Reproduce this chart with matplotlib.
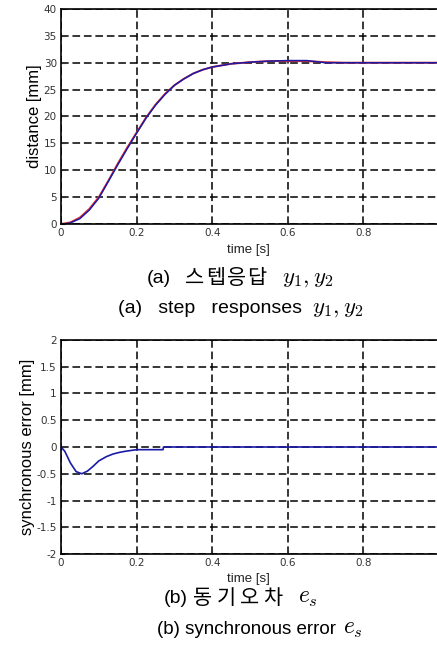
import numpy as np
import matplotlib
matplotlib.use('Agg')
import matplotlib.pyplot as plt
from matplotlib import font_manager as fm

plt.rcParams['mathtext.fontset'] = 'cm'
plt.rcParams['font.family'] = ['Noto Sans CJK KR', 'DejaVu Sans']

names = {f.name for f in fm.fontManager.ttflist}
narrow = 'Liberation Sans Narrow' if 'Liberation Sans Narrow' in names else 'Liberation Sans'

# step responses
t_step = [0, 0.01, 0.025, 0.05, 0.075, 0.1, 0.125, 0.15, 0.175, 0.2, 0.225, 0.25,
          0.275, 0.3, 0.325, 0.35, 0.375, 0.4, 0.45, 0.5, 0.55, 0.6, 0.65, 0.7, 0.75, 1.0]
y1 = [0, 0.1, 0.3, 1.2, 2.8, 5.0, 8.0, 11.2, 14.2, 17.0, 19.8, 22.2,
      24.2, 25.8, 27.0, 28.0, 28.7, 29.2, 29.8, 30.1, 30.3, 30.3, 30.3, 30.1, 30.0, 30.0]
y2 = [0, 0.0, 0.2, 1.0, 2.6, 4.8, 7.9, 11.0, 14.0, 16.9, 19.7, 22.1,
      24.1, 25.8, 27.0, 28.0, 28.7, 29.2, 29.8, 30.1, 30.3, 30.4, 30.4, 30.0, 30.0, 30.0]

# synchronous error
t_err = [0, 0.01, 0.025, 0.04, 0.055, 0.07, 0.085, 0.1, 0.12, 0.138, 0.155, 0.17,
         0.2, 0.27, 0.271, 1.0]
e_s = [0, -0.08, -0.3, -0.46, -0.5, -0.45, -0.36, -0.26, -0.18, -0.13, -0.1, -0.08,
       -0.05, -0.05, 0, 0]

xticks = [0, 0.2, 0.4, 0.6, 0.8, 1]
xticklabels = ['0', '0.2', '0.4', '0.6', '0.8', '1']

W, H = 437, 646
fig = plt.figure(figsize=(W / 100, H / 100), dpi=100)
ax1 = fig.add_axes([0.1396, 0.6533, 0.865, 0.3328])
ax2 = fig.add_axes([0.1396, 0.1424, 0.865, 0.3313])

def style(ax):
    ax.set_xlim(0, 1)
    ax.set_xticks(xticks)
    ax.set_xticklabels(xticklabels)
    ax.grid(True, color='black', linestyle=(0, (5, 2.5)), linewidth=1.1)
    ax.tick_params(direction='in', length=3, labelsize=7.5, colors='#333333', pad=3)
    for lab in ax.get_xticklabels() + ax.get_yticklabels():
        lab.set_family('DejaVu Sans')
    for s in ax.spines.values():
        s.set_linewidth(1.2)

ax1.plot(t_step, y1, color='#e03030', linewidth=1.4)
ax1.plot(t_step, y2, color='#1a1aa8', linewidth=1.1)
ax1.set_ylim(0, 40)
ax1.set_yticks(range(0, 41, 5))
style(ax1)
ax1.set_ylabel('distance [mm]', family=narrow, fontsize=12, labelpad=1)

ax2.plot(t_err, e_s, color='#1a1aa8', linewidth=1.2)
ax2.set_ylim(-2, 2)
ax2.set_yticks([-2, -1.5, -1, -0.5, 0, 0.5, 1, 1.5, 2])
ax2.set_yticklabels(['-2', '-1.5', '-1', '-0.5', '0', '0.5', '1', '1.5', '2'])
style(ax2)
ax2.set_ylabel('synchronous error [mm]', family=narrow, fontsize=12, labelpad=1)

fam = ['Noto Sans CJK KR', 'DejaVu Sans']
eng = [narrow, 'DejaVu Sans']

def put(x, y, s, size, family):
    fig.text(x / W, 1 - y / H, s, ha='left', va='baseline', fontsize=size, family=family)

def spaced(x, y, s, pitch, size):
    # Korean caption set with wider letter spacing, like the scanned original
    for i, ch in enumerate(s):
        put(x + i * pitch, y, ch, size, fam)

# captions, top panel
fig.text(248 / W, 1 - 250 / H, 'time [s]', ha='center', va='center', fontsize=9.5,
         family=narrow, color='#222222')
put(147, 283, '(a)', 14, eng)
spaced(185, 284, '스텝응답', 20.8, 15)
put(282, 283, '$y_1, y_2$', 16.5, fam)
put(118, 313, '(a)   step   responses', 14, eng)
put(312, 313, '$y_1, y_2$', 16.5, fam)

# captions, bottom panel
fig.text(248 / W, 1 - 579 / H, 'time [s]', ha='center', va='center', fontsize=9.5,
         family=narrow, color='#222222')
put(164, 603, '(b)', 14, eng)
spaced(193, 604, '동기오차', 23.5, 15)
put(298, 603, '$e_s$', 17, fam)
put(157, 634, '(b) synchronous error', 13.5, eng)
put(343, 634, '$e_s$', 17, fam)

fig.savefig('out.png', dpi=100)
